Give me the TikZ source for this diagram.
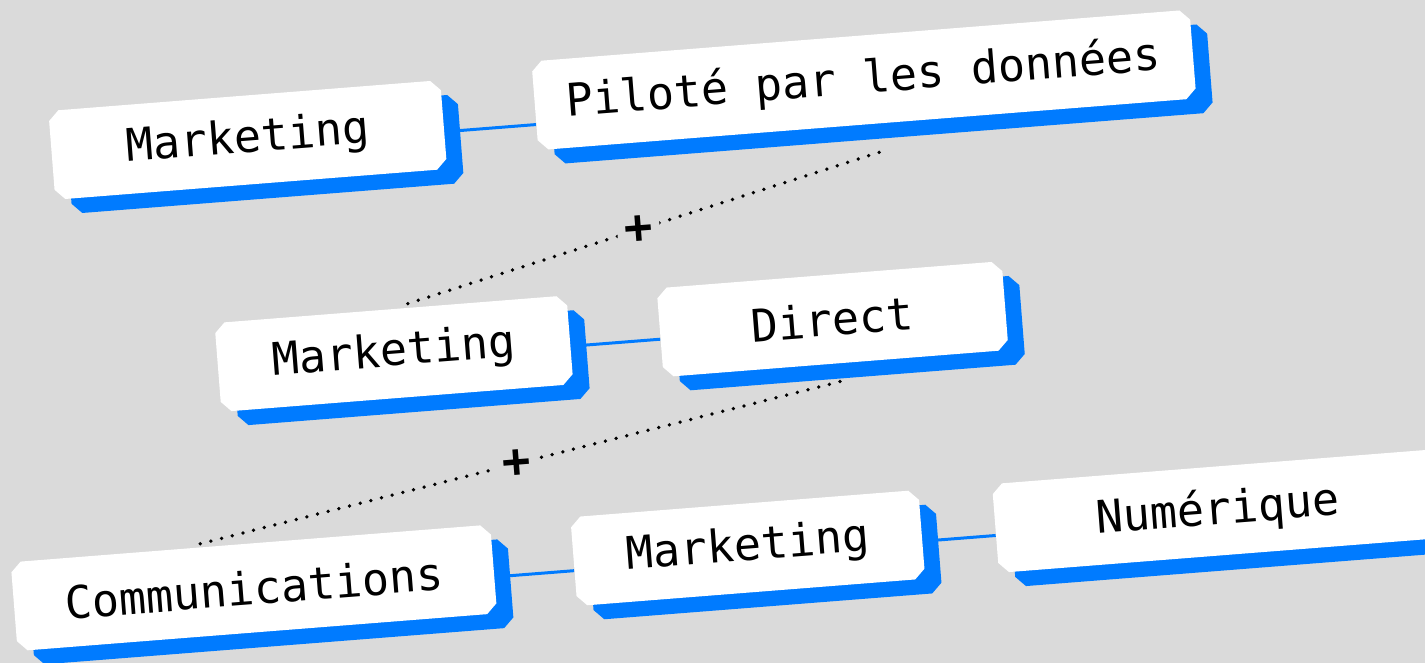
\documentclass[tikz,border=0pt]{standalone}
\usepackage{fontspec}
\newfontfamily\monofont{DejaVu Sans Mono}
\usetikzlibrary{shapes.misc,shadows,calc}
\definecolor{bg}{RGB}{218,218,218}
\definecolor{boxblue}{RGB}{0,123,255}
\pgfdeclarelayer{lines}
\pgfsetlayers{lines,main}

\begin{document}
\begin{tikzpicture}
\tikzset{
	bx/.style={chamfered rectangle, chamfered rectangle xsep=0.1cm, chamfered rectangle ysep=0.1cm,
		fill=white, inner sep=0pt, minimum height=1.78cm, text=black,
		font=\monofont\fontsize{25.6pt}{30pt}\selectfont,
		general shadow={fill=boxblue, shadow xshift=0.34cm, shadow yshift=-0.28cm}},
	ln/.style={draw=boxblue, line width=0.06cm},
	dl/.style={line width=0.075cm, line cap=round, dash pattern=on 0pt off 0.22cm},
	pl/.style={fill=bg, inner sep=0.14cm, font=\monofont\bfseries\fontsize{27pt}{30pt}\selectfont}
}

% 背景
\begin{pgfonlayer}{lines}
\fill[bg] (0,0) rectangle (28.5,-13.26);
\end{pgfonlayer}
\useasboundingbox (0,0) rectangle (28.5,-13.26);

\begin{scope}[rotate=4.5, transform shape]

% 第一行
\node[bx, minimum width=7.86cm] (mk_1) at(4.72,-3.18) {Marketing};
\node[bx, minimum width=13.2cm] (pilote) at(17.10,-2.95) {Piloté par les données};

% 第二行
\node[bx, minimum width=7.06cm] (mk_2) at(7.30,-7.67) {Marketing};
\node[bx, minimum width=6.92cm] (direct) at(16.10,-7.67) {Direct};

% 第三行
\node[bx, minimum width=9.62cm] (comm) at(4.14,-12.12) {Communications};
\node[bx, minimum width=6.98cm] (mk_3) at(14.05,-12.10) {Marketing};
\node[bx, minimum width=8.92cm] (num) at(23.48,-12.10) {Numérique};

% 连线
\begin{pgfonlayer}{lines}
\draw[ln] ($(mk_1.east)+(0,-0.145)$) -- ($(pilote.west)+(0,-0.375)$);
\draw[ln] ($(mk_2.east)+(0,-0.13)$) -- ($(direct.west)+(0,-0.13)$);
\draw[ln] ($(comm.east)+(0,-0.16)$) -- ($(mk_3.west)+(0,-0.18)$);
\draw[ln] ($(mk_3.east)+(0,-0.14)$) -- ($(num.west)+(0,-0.14)$);

% 虚线 +
\draw[dl] ($(pilote.south)+(0.19,-0.57)$) -- node[pl] {+} ($(mk_2.north)+(0.15,0.03)$);
\draw[dl] ($(direct.south)+(0.05,-0.36)$) -- node[pl] {+} ($(comm.north)+(-1.15,0.04)$);
\end{pgfonlayer}

\end{scope}
\end{tikzpicture}
\end{document}
